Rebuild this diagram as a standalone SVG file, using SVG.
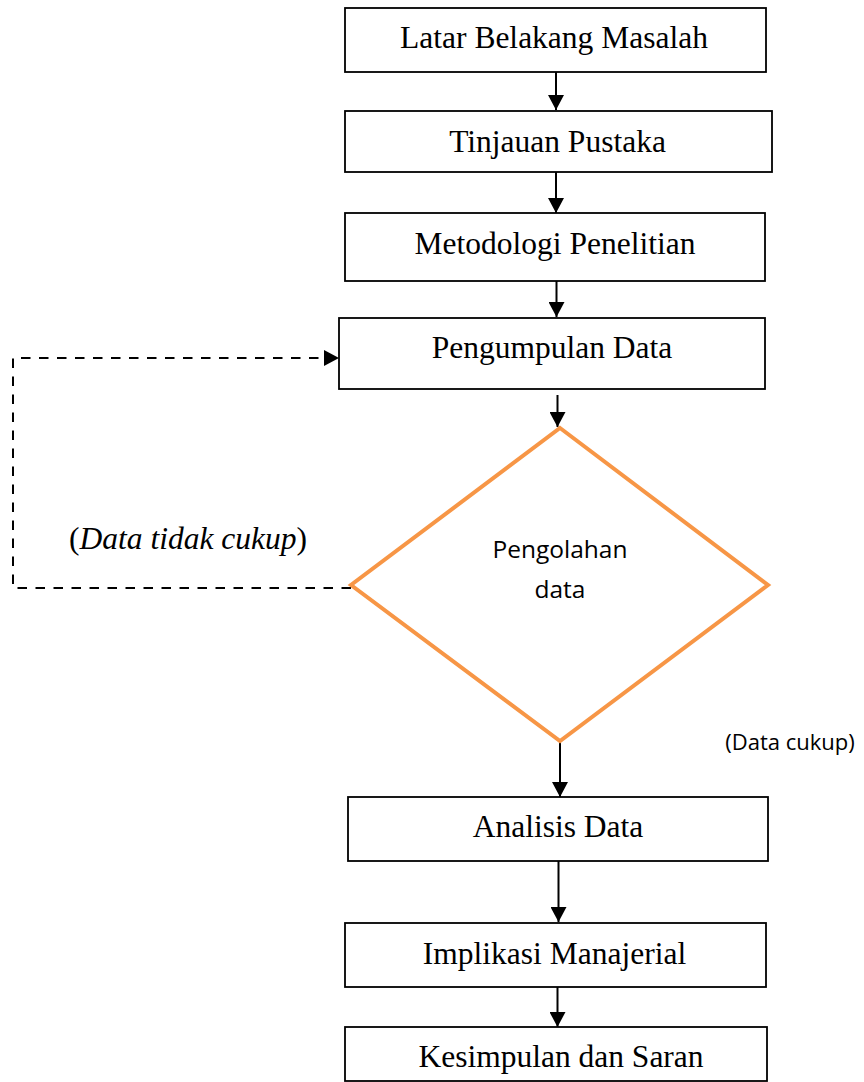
<svg xmlns="http://www.w3.org/2000/svg" width="864" height="1082" viewBox="0 0 864 1082">
<style>
.box{fill:#fff;stroke:#000;stroke-width:1.8}
.t{font-family:"Liberation Serif","Times New Roman",serif;font-size:31.5px;fill:#000;text-anchor:middle}
.c{font-family:"Open Sans","Noto Sans",sans-serif;fill:#000;text-anchor:middle}
.ln{fill:none;stroke:#000;stroke-width:2}
.dash{fill:none;stroke:#000;stroke-width:2;stroke-dasharray:9.5 8.5}
</style>
<defs>
<marker id="ah" markerUnits="userSpaceOnUse" markerWidth="15" markerHeight="16" refX="15" refY="8" orient="auto">
<path d="M0,0 L15,8 L0,16 Z" fill="#000"/>
</marker>
</defs>
<rect width="864" height="1082" fill="#fff"/>
<g id="connectors">
<line class="ln" x1="556" y1="72" x2="556" y2="110" marker-end="url(#ah)"/>
<line class="ln" x1="556" y1="172" x2="556" y2="213" marker-end="url(#ah)"/>
<line class="ln" x1="556.5" y1="281" x2="556.5" y2="317" marker-end="url(#ah)"/>
<line class="ln" x1="557.5" y1="395" x2="557.5" y2="427" marker-end="url(#ah)"/>
<path class="dash" d="M351,588 L13,588 L13,358 L339,358" marker-end="url(#ah)"/>
<line class="ln" x1="560" y1="742" x2="560" y2="797" marker-end="url(#ah)"/>
<line class="ln" x1="558.5" y1="861" x2="558.5" y2="922" marker-end="url(#ah)"/>
<line class="ln" x1="557.5" y1="987" x2="557.5" y2="1027" marker-end="url(#ah)"/>
</g>
<g id="n1"><rect class="box" x="345" y="8" width="421" height="64"/><text class="t" x="554" y="48">Latar Belakang Masalah</text></g>
<g id="n2"><rect class="box" x="345" y="111" width="427" height="61"/><text class="t" x="557.5" y="152">Tinjauan Pustaka</text></g>
<g id="n3"><rect class="box" x="345" y="213" width="420" height="68"/><text class="t" x="555" y="254">Metodologi Penelitian</text></g>
<g id="n4"><rect class="box" x="339" y="318" width="426" height="71"/><text class="t" x="552" y="358">Pengumpulan Data</text></g>
<g id="n5"><polygon points="560,428 768,585 560,741 351,585" fill="#fff" stroke="#F79646" stroke-width="4"/>
<text class="c" x="560" y="558" font-size="24.5">Pengolahan</text>
<text class="c" x="560" y="598" font-size="24.5">data</text></g>
<g id="n6"><rect class="box" x="348" y="797" width="420" height="64"/><text class="t" x="558" y="837">Analisis Data</text></g>
<g id="n7"><rect class="box" x="345" y="923" width="421" height="64"/><text class="t" x="554.5" y="964">Implikasi Manajerial</text></g>
<g id="n8"><rect class="box" x="345" y="1027" width="422" height="54"/><text class="t" x="561" y="1067">Kesimpulan dan Saran</text></g>
<g id="labels">
<text x="188" y="549" font-family="Liberation Serif, serif" font-size="31.5" text-anchor="middle">(<tspan font-style="italic">Data tidak cukup</tspan>)</text>
<text class="c" x="790" y="750" font-size="22">(Data cukup)</text>
</g>
</svg>
